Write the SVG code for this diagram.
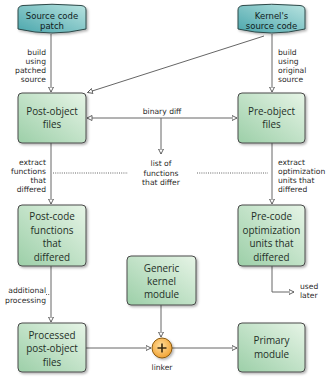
<svg xmlns="http://www.w3.org/2000/svg" width="330" height="380" viewBox="0 0 330 380">
<defs>
<linearGradient id="gBox" x1="0" y1="1" x2="1" y2="0">
<stop offset="0" stop-color="#9ccfa8"/>
<stop offset="1" stop-color="#e6f4e6"/>
</linearGradient>
<linearGradient id="gCyl" x1="0" y1="1" x2="1" y2="0">
<stop offset="0" stop-color="#4aa6ac"/>
<stop offset="1" stop-color="#b8e3e0"/>
</linearGradient>
<radialGradient id="gCirc" cx="0.45" cy="0.4" r="0.6">
<stop offset="0" stop-color="#ffe0a0"/>
<stop offset="1" stop-color="#f2a232"/>
</radialGradient>
<filter id="sh" x="-10%" y="-10%" width="130%" height="130%">
<feDropShadow dx="1.5" dy="1.5" stdDeviation="1" flood-color="#000" flood-opacity="0.3"/>
</filter>
<marker id="arr" markerWidth="7" markerHeight="7" refX="5.5" refY="3" orient="auto" markerUnits="userSpaceOnUse">
<path d="M0.5,0.5 L5.5,3 L0.5,5.5 Z" fill="#fff" stroke="#555" stroke-width="0.9"/>
</marker>
</defs>
<style>
.box{fill:url(#gBox);stroke:#4a4a4a;stroke-width:1;filter:url(#sh)}
.cyl{fill:url(#gCyl);stroke:#2e4848;stroke-width:1;filter:url(#sh)}
.nt{font-family:"Open Sans","Noto Sans",sans-serif;font-size:9.9px;fill:#1f2f27;text-anchor:middle}
.ct{font-family:"DejaVu Sans",sans-serif;font-size:8.5px;fill:#10201c;text-anchor:middle}
.lb{font-family:"DejaVu Sans",sans-serif;font-size:7.6px;fill:#2a2a2a}
.r{text-anchor:end}
.m{text-anchor:middle}
.ln{fill:none;stroke:#666;stroke-width:1}
.dot{fill:none;stroke:#666;stroke-width:1;stroke-dasharray:1 1.2}
</style>

<g id="connectors">
<line class="ln" x1="51" y1="34" x2="51" y2="92" marker-end="url(#arr)"/>
<line class="ln" x1="272" y1="34" x2="272" y2="92" marker-end="url(#arr)"/>
<line class="ln" x1="264" y1="36" x2="87.5" y2="92.5" marker-end="url(#arr)"/>
<line class="ln" x1="161" y1="118" x2="87" y2="118" marker-end="url(#arr)"/>
<line class="ln" x1="161" y1="118" x2="237" y2="118" marker-end="url(#arr)"/>
<line class="ln" x1="161" y1="118" x2="161" y2="154" marker-end="url(#arr)"/>
<line class="ln" x1="51" y1="143" x2="51" y2="204" marker-end="url(#arr)"/>
<line class="ln" x1="272" y1="143" x2="272" y2="204" marker-end="url(#arr)"/>
<line class="dot" x1="53" y1="173" x2="128" y2="173"/>
<line class="dot" x1="197" y1="173" x2="268" y2="173"/>
<polyline class="ln" points="272,266 272,292 294,292" marker-end="url(#arr)"/>
<line class="ln" x1="51" y1="266" x2="51" y2="322" marker-end="url(#arr)"/>
<line class="dot" x1="46" y1="294.5" x2="50" y2="294.5"/>
<line class="ln" x1="161" y1="305" x2="161" y2="337" marker-end="url(#arr)"/>
<line class="ln" x1="86" y1="348" x2="151" y2="348" marker-end="url(#arr)"/>
<line class="ln" x1="172" y1="348" x2="237" y2="348" marker-end="url(#arr)"/>
</g>

<g id="labels">
<text class="lb r" x="46" y="55">build</text>
<text class="lb r" x="46" y="64">using</text>
<text class="lb r" x="46" y="73">patched</text>
<text class="lb r" x="46" y="82">source</text>
<text class="lb" x="278" y="55">build</text>
<text class="lb" x="278" y="64">using</text>
<text class="lb" x="278" y="73">original</text>
<text class="lb" x="278" y="82">source</text>
<text class="lb m" x="162" y="113.5">binary diff</text>
<text class="lb m" x="161" y="166">list of</text>
<text class="lb m" x="161" y="175.5">functions</text>
<text class="lb m" x="161" y="185">that differ</text>
<text class="lb r" x="46" y="164.5">extract</text>
<text class="lb r" x="46" y="173.5">functions</text>
<text class="lb r" x="46" y="182.5">that</text>
<text class="lb r" x="46" y="191.5">differed</text>
<text class="lb" x="278" y="164.5">extract</text>
<text class="lb" x="278" y="173.5">optimization</text>
<text class="lb" x="278" y="182.5">units that</text>
<text class="lb" x="278" y="191.5">differed</text>
<text class="lb" x="300" y="289">used</text>
<text class="lb" x="300" y="298">later</text>
<text class="lb r" x="46" y="293">additional</text>
<text class="lb r" x="46" y="303">processing</text>
<text class="lb m" x="162" y="369.5">linker</text>
</g>

<g id="source-patch">
<path class="cyl" d="M18,10 Q18,6 23,5.5 Q52,3 81,5.5 Q86,6 86,10 L86,29 Q52,37 18,29 Z"/>
<text class="ct" x="52" y="18.5">Source code</text>
<text class="ct" x="52" y="28.5">patch</text>
</g>

<g id="kernel-source">
<path class="cyl" d="M238,10 Q238,6 243,5.5 Q272,3 300,5.5 Q305,6 305,10 L305,29 Q272,37 238,29 Z"/>
<text class="ct" x="271.5" y="18.5">Kernel's</text>
<text class="ct" x="271.5" y="28.5">source code</text>
</g>

<g id="post-object">
<rect class="box" x="18" y="93" width="68" height="50" rx="4"/>
<text class="nt" x="52" y="114.5">Post-object</text>
<text class="nt" x="52" y="128">files</text>
</g>

<g id="pre-object">
<rect class="box" x="238" y="93" width="67" height="50" rx="4"/>
<text class="nt" x="271.5" y="114.5">Pre-object</text>
<text class="nt" x="271.5" y="128">files</text>
</g>

<g id="post-code">
<rect class="box" x="18" y="205" width="68" height="61" rx="4"/>
<text class="nt" x="52" y="220">Post-code</text>
<text class="nt" x="52" y="233.5">functions</text>
<text class="nt" x="52" y="247">that</text>
<text class="nt" x="52" y="260.5">differed</text>
</g>

<g id="pre-code">
<rect class="box" x="238" y="205" width="67" height="61" rx="4"/>
<text class="nt" x="271.5" y="220">Pre-code</text>
<text class="nt" x="271.5" y="233.5">optimization</text>
<text class="nt" x="271.5" y="247">units that</text>
<text class="nt" x="271.5" y="260.5">differed</text>
</g>

<g id="generic-kernel">
<rect class="box" x="127" y="256" width="69" height="49" rx="4"/>
<text class="nt" x="161.5" y="271.5">Generic</text>
<text class="nt" x="161.5" y="285">kernel</text>
<text class="nt" x="161.5" y="298">module</text>
</g>

<g id="processed">
<rect class="box" x="18" y="323" width="68" height="49" rx="4"/>
<text class="nt" x="52" y="338.5">Processed</text>
<text class="nt" x="52" y="352">post-object</text>
<text class="nt" x="52" y="365.5">files</text>
</g>

<g id="linker">
<circle cx="162" cy="348" r="10" fill="url(#gCirc)" stroke="#8a5a10" stroke-width="1" filter="url(#sh)"/>
<path d="M162,343.5 V352.5 M157.5,348 H166.5" stroke="#3a2a10" stroke-width="1.6" fill="none"/>
</g>

<g id="primary">
<rect class="box" x="238" y="323" width="67" height="49" rx="4"/>
<text class="nt" x="271.5" y="343.5">Primary</text>
<text class="nt" x="271.5" y="357.5">module</text>
</g>
</svg>
